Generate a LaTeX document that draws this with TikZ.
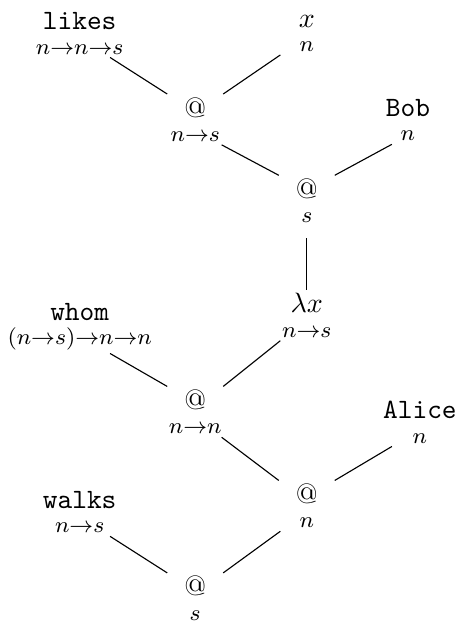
\documentclass[tikz,border=0pt]{standalone}
\usepackage{amsmath}

\begin{document}
\begin{tikzpicture}[
  vtx/.style={align=center,inner sep=1pt},
  branch/.style={line width=.4pt}]
  \useasboundingbox (0,0) rectangle (5.773,7.819);
  % leaves and applications, top tree
  \node[vtx] (likes) at (1.00,7.40) {\texttt{likes}\\[-3.3pt]\footnotesize$n{\to}n{\to}s$};
  \node[vtx] (xvar)  at (3.85,7.40) {$x$\\[-3.3pt]\footnotesize$n$};
  \node[vtx] (a1)    at (2.45,6.32) {@\\[-3.3pt]\footnotesize$n{\to}s$};
  \node[vtx] (bob)   at (5.12,6.31) {\texttt{Bob}\\[-3.3pt]\footnotesize$n$};
  \node[vtx] (a2)    at (3.85,5.30) {@\\[-3.3pt]\footnotesize$s$};
  % abstraction and bottom tree
  \node[vtx] (lam)   at (3.85,3.86) {$\lambda x$\\[-3.3pt]\footnotesize$n{\to}s$};
  \node[vtx] (whom)  at (1.00,3.72) {\texttt{whom}\\[-3.3pt]\footnotesize$(n{\to}s){\to}n{\to}n$};
  \node[vtx] (a3)    at (2.45,2.65) {@\\[-3.3pt]\footnotesize$n{\to}n$};
  \node[vtx] (alice) at (5.27,2.52) {\texttt{Alice}\\[-3.3pt]\footnotesize$n$};
  \node[vtx] (a4)    at (3.85,1.47) {@\\[-3.3pt]\footnotesize$n$};
  \node[vtx] (walks) at (1.00,1.39) {\texttt{walks}\\[-3.3pt]\footnotesize$n{\to}s$};
  \node[vtx] (a5)    at (2.45,0.31) {@\\[-3.3pt]\footnotesize$s$};
  \foreach \p/\c/\s in {a1/likes/-1,a1/xvar/1,a2/a1/-1,a2/bob/1,a3/whom/-1,
                        a3/lam/1,a4/a3/-1,a4/alice/1,a5/walks/-1,a5/a4/1} {
    \draw[branch] ([xshift=\s*10pt]\p.north) -- ([xshift=\s*30.4pt]\p.north |- \c.south);
  }
  \draw[branch,shorten <=4.3pt] (a2.south) -- (lam.north);
\end{tikzpicture}
\end{document}
